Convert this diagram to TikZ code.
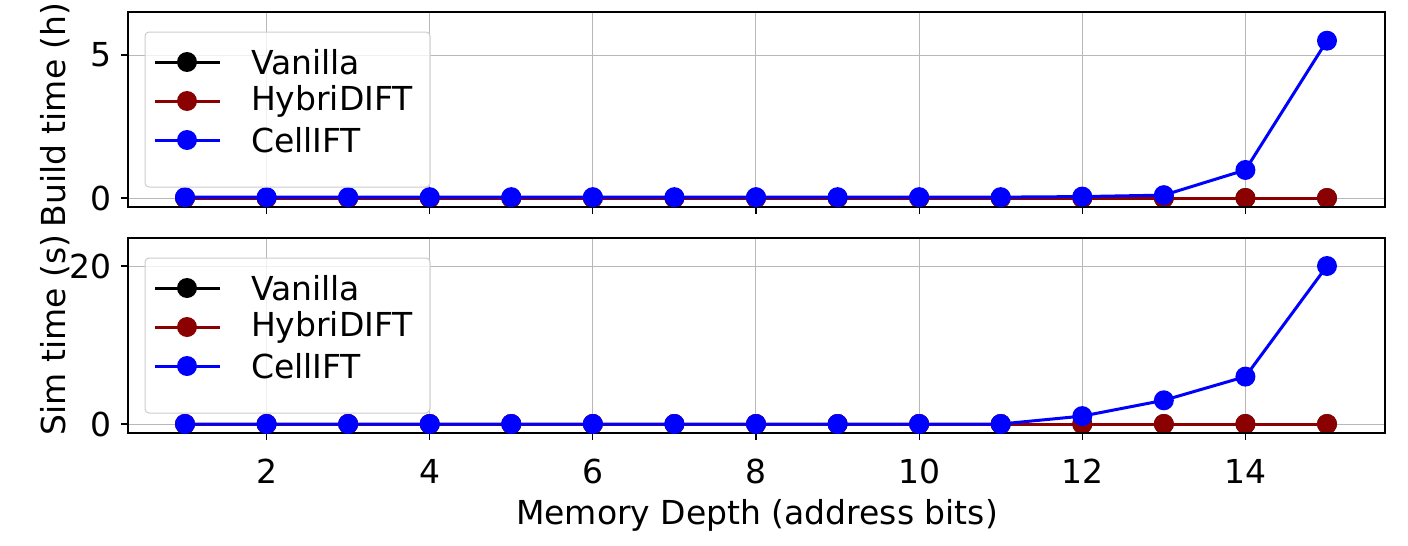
\documentclass[tikz,border=0pt]{standalone}
\usepackage{fontspec}
\setmainfont{DejaVu Sans}
\definecolor{hdred}{rgb}{0.545,0,0}
\tikzset{
  gridline/.style={draw=black!28, line width=0.5pt},
  frame/.style={draw=black, line width=0.6pt},
  series/.style={line width=1.5pt},
  tick/.style={font=\fontsize{16.5}{19}\selectfont},
  legbox/.style={draw=black!20, fill=white, fill opacity=0.8, rounded corners=2pt, line width=0.5pt}
}
\newcommand{\dx}[1]{185+81.57*(#1-1)}
\begin{document}
\begin{tikzpicture}[x=0.5pt, y=-0.5pt]
\useasboundingbox (0,0) rectangle (1408,546);
% panels: name / top / bottom / zero row / px per unit
\foreach \pn/\ta/\tb/\zy/\sc/\tk/\lab/\ly in {top/12/207/198/28.6/5/Build time (h)/115, bot/238/433/424/7.9/20/Sim time (s)/335}{
  % grid
  \foreach \d in {2,4,...,14}
    \draw[gridline] ({\dx{\d}},\ta) -- ({\dx{\d}},\tb);
  \foreach \v in {0,\tk}
    \draw[gridline] (128,{\zy-\sc*\v}) -- (1385,{\zy-\sc*\v});
  % flat series
  \draw[series, black] ({\dx{1}},\zy) -- ({\dx{15}},\zy);
  \foreach \d in {1,...,15} \fill[black] ({\dx{\d}},\zy) circle (10);
  \draw[series, hdred] ({\dx{1}},\zy) -- ({\dx{15}},\zy);
  \foreach \d in {1,...,15} \fill[hdred] ({\dx{\d}},\zy) circle (10);
  \node[rotate=90, tick] (ylab-\pn) at (55,\ly) {\lab};
  \draw[frame] (128,\ta) rectangle (1385,\tb);
  \foreach \v in {0,\tk}{
    \draw[frame] (128,{\zy-\sc*\v}) -- (121,{\zy-\sc*\v});
    \node[tick, anchor=east] at (119,{\zy-\sc*\v}) {\v};
  }
  \foreach \d in {2,4,...,14}
    \draw[frame] ({\dx{\d}},\tb) -- ({\dx{\d}},\tb+7);
}
% CellIFT curves
\draw[series, blue] ({\dx{1}},197) \foreach \d/\v in {2/0.03,3/0.03,4/0.03,5/0.03,6/0.03,7/0.03,8/0.03,9/0.03,10/0.03,11/0.03,12/0.05,13/0.1,14/0.98,15/5.5}{ -- ({\dx{\d}},{198-28.6*\v}) };
\foreach \d/\v in {1/0.03,2/0.03,3/0.03,4/0.03,5/0.03,6/0.03,7/0.03,8/0.03,9/0.03,10/0.03,11/0.03,12/0.05,13/0.1,14/0.98,15/5.5}
  \fill[blue] ({\dx{\d}},{198-28.6*\v}) circle (10);
\draw[series, blue] ({\dx{1}},424) \foreach \d/\v in {2/0,3/0,4/0,5/0,6/0,7/0,8/0,9/0,10/0,11/0,12/1,13/3,14/6,15/20}{ -- ({\dx{\d}},{424-7.9*\v}) };
\foreach \d/\v in {1/0,2/0,3/0,4/0,5/0,6/0,7/0,8/0,9/0,10/0,11/0,12/1,13/3,14/6,15/20}
  \fill[blue] ({\dx{\d}},{424-7.9*\v}) circle (10);
% legends
\foreach \pn/\ly in {top/32, bot/258}{
  \draw[legbox] (145,\ly) rectangle (430,\ly+155);
  \foreach \c/\t [count=\i] in {black/Vanilla, hdred/HybriDIFT, blue/CellIFT}{
    \draw[series, \c] (155,{\ly+30+39*(\i-1)}) -- (220,{\ly+30+39*(\i-1)});
    \fill[\c] (187,{\ly+30+39*(\i-1)}) circle (10);
    \node[tick, anchor=west] (leg-\pn-\i) at (244,{\ly+30+39*(\i-1)}) {\t};
  }
}
% x axis labels
\foreach \d in {2,4,...,14}
  \node[tick] at ({\dx{\d}},471) {\d};
\node[tick] (xlab) at (757,515) {Memory Depth (address bits)};
\end{tikzpicture}
\end{document}
